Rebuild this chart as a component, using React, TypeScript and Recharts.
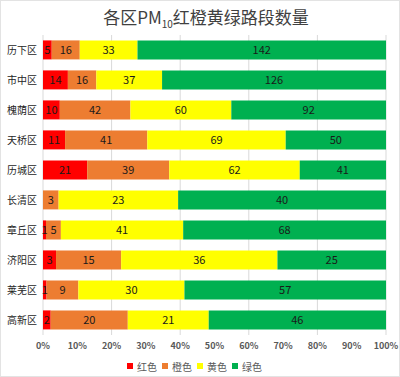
import { BarChart, Bar, XAxis, YAxis, CartesianGrid, Legend, LabelList } from 'recharts'

const districts = ['历下区', '市中区', '槐荫区', '天桥区', '历城区', '长清区', '章丘区', '济阳区', '莱芜区', '高新区']
const red = [5, 14, 10, 11, 21, 0, 1, 3, 1, 2]
const orange = [16, 16, 42, 41, 39, 3, 5, 15, 9, 20]
const yellow = [33, 37, 60, 69, 62, 23, 41, 36, 30, 21]
const green = [142, 126, 92, 50, 41, 40, 68, 25, 57, 46]
const xTicks = [0, 0.1, 0.2, 0.3, 0.4, 0.5, 0.6, 0.7, 0.8, 0.9, 1]

const series = [
  { key: 'red', name: '红色', color: '#FF0000' },
  { key: 'orange', name: '橙色', color: '#ED7D31' },
  { key: 'yellow', name: '黄色', color: '#FFFF00' },
  { key: 'green', name: '绿色', color: '#00B050' }
]

const data = districts.map((name, i) => ({
  name,
  red: red[i],
  orange: orange[i],
  yellow: yellow[i],
  green: green[i]
}))

const font = '"Noto Sans CJK SC", "Noto Sans", sans-serif'

// legend in series order (recharts sorts by name otherwise)
const renderLegend = () => (
  <div style={{ display: 'flex', justifyContent: 'center', alignItems: 'center', height: 22, fontSize: 10, color: '#595959', fontFamily: font, paddingLeft: 8 }}>
    {series.map((s) => (
      <span key={s.key} style={{ display: 'flex', alignItems: 'center', marginRight: 5 }}>
        <span style={{ display: 'inline-block', width: 6, height: 6, background: s.color, marginRight: 4 }} />
        {s.name}
      </span>
    ))}
  </div>
)

export default function App() {
  return (
    <div
      style={{
        position: 'absolute',
        left: 0,
        top: 0,
        width: 400,
        height: 377,
        boxSizing: 'border-box',
        border: '1px solid #e3e3e3',
        background: '#fff',
        fontFamily: font
      }}
    >
      <div
        style={{
          position: 'absolute',
          top: 4,
          left: 0,
          width: 410,
          textAlign: 'center',
          fontSize: 17,
          color: '#404040',
          lineHeight: '24px'
        }}
      >
        各区PM<sub style={{ fontSize: 10 }}>10</sub>红橙黄绿路段数量
      </div>
      <div style={{ position: 'absolute', left: -1, top: -1 }}>
        <BarChart
          width={400}
          height={377}
          data={data}
          layout="vertical"
          stackOffset="expand"
          barCategoryGap="18%"
          margin={{ top: 35, right: 14, bottom: 0, left: 0 }}
        >
          <CartesianGrid horizontal={false} stroke="#d9d9d9" />
          <XAxis
            type="number"
            domain={[0, 1]}
            ticks={xTicks}
            tickFormatter={(v: number) => `${Math.round(v * 100)}%`}
            axisLine={false}
            tickLine={false}
            height={20}
            tick={{ fontSize: 9, fill: '#595959', fontWeight: 'bold', fontFamily: font }}
          />
          <YAxis
            type="category"
            dataKey="name"
            width={43}
            axisLine={false}
            tickLine={false}
            tickMargin={0}
            tick={{ fontSize: 10, fill: '#262626', fontFamily: font }}
          />
          <Legend verticalAlign="bottom" align="center" wrapperStyle={{ height: 22 }} content={renderLegend} />
          {series.map((s) => (
            <Bar key={s.key} dataKey={s.key} name={s.name} stackId="a" fill={s.color} isAnimationActive={false}>
              <LabelList
                dataKey={s.key}
                position="center"
                formatter={(v: number) => (v ? v : '')}
                style={{ fontSize: 11, fill: '#1a1a1a', fontFamily: font }}
              />
            </Bar>
          ))}
        </BarChart>
      </div>
    </div>
  )
}
